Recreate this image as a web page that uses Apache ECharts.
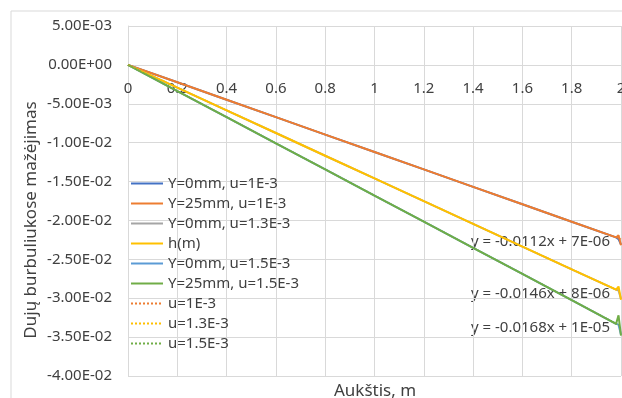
<!DOCTYPE html>
<html>
<head>
<meta charset="utf-8">
<script src="https://cdn.jsdelivr.net/npm/echarts@6/dist/echarts.min.js"></script>
<style>
html, body { margin: 0; padding: 0; background: #fff; }
#chart { width: 622px; height: 398px; }
</style>
</head>
<body>
<div id="chart"></div>
<script>
var chartDom = document.getElementById('chart');
var myChart = echarts.init(chartDom);

// aukštis (x)
var xs = [0, 0.2, 0.4, 0.6, 0.8, 1, 1.2, 1.4, 1.6, 1.8, 1.98, 1.99, 2];
// matavimai
var y0u1 = [0, -0.00224, -0.00448, -0.00672, -0.00896, -0.0112, -0.01344, -0.01568, -0.01792, -0.02016, -0.02218, -0.0224, -0.0231];
var y25u1 = [0, -0.00224, -0.00448, -0.00672, -0.00896, -0.0112, -0.01344, -0.01568, -0.01792, -0.02016, -0.02218, -0.0219, -0.0232];
var y0u13 = [0, -0.00292, -0.00584, -0.00876, -0.01168, -0.0146, -0.01752, -0.02044, -0.02336, -0.02628, -0.0289, -0.0290, -0.0301];
var hm = [0, -0.00292, -0.00584, -0.00876, -0.01168, -0.0146, -0.01752, -0.02044, -0.02336, -0.02628, -0.0289, -0.0285, -0.0302];
var y0u15 = [0, -0.00336, -0.00672, -0.01008, -0.01344, -0.0168, -0.02016, -0.02352, -0.02688, -0.03024, -0.0333, -0.0334, -0.0347];
var y25u15 = [0, -0.00336, -0.00672, -0.01008, -0.01344, -0.0168, -0.02016, -0.02352, -0.02688, -0.03024, -0.0333, -0.0322, -0.0348];
// tendencijos linijos (galai)
var trendX = [0, 2];
var trendU1 = [0.000007, -0.022393];
var trendU13 = [0.000008, -0.029192];
var trendU15 = [0.00001, -0.03359];
var trendText = ['y = -0.0112x + 7E-06', 'y = -0.0146x + 8E-06', 'y = -0.0168x + 1E-05'];

function pairs(x, y) {
    return x.map(function (v, i) { return [v, y[i]]; });
}
function fmtE(v) {
    var s = Number(v).toExponential(2).toUpperCase();
    return s.replace(/E([+-])(\d)$/, 'E$10$2');
}

var txtColor = '#404040';
var font = 'Noto Sans';

function line(name, color, data, dotted) {
    return {
        name: name,
        type: 'line',
        data: data,
        symbol: 'none',
        silent: true,
        lineStyle: { color: color, width: dotted ? 1.5 : 2, type: dotted ? 'dotted' : 'solid' },
        itemStyle: { color: color }
    };
}

var option = {
    animation: false,
    backgroundColor: '#fff',
    textStyle: { fontFamily: font },
    grid: { left: 128, right: 1, top: 26, bottom: 22, outerBoundsMode: 'none', containLabel: false },
    graphic: [
        {
            type: 'rect', z: -10,
            shape: { x: 11, y: 11, width: 700, height: 500 },
            style: { fill: 'none', stroke: '#d9d9d9', lineWidth: 1 }
        },
        { type: 'text', right: 12, top: 234, style: { text: trendText[0], fill: txtColor, font: '15px "Noto Sans"' } },
        { type: 'text', right: 12, top: 286, style: { text: trendText[1], fill: txtColor, font: '15px "Noto Sans"' } },
        { type: 'text', right: 12, top: 320, style: { text: trendText[2], fill: txtColor, font: '15px "Noto Sans"' } },
        {
            type: 'text', x: 31, y: 220, rotation: Math.PI / 2,
            style: { text: 'Dujų burbuliukose mažėjimas', fill: txtColor, font: '17px "Noto Sans"', align: 'center', verticalAlign: 'middle' }
        },
        {
            type: 'text', x: 375, y: 391,
            style: { text: 'Aukštis, m', fill: txtColor, font: '17px "Noto Sans"', align: 'center', verticalAlign: 'middle' }
        }
    ],
    legend: {
        orient: 'vertical',
        left: 125,
        top: 171,
        itemWidth: 32,
        itemHeight: 14,
        itemGap: 5,
        itemStyle: { opacity: 0 },
        textStyle: { color: txtColor, fontSize: 15, fontFamily: font }
    },
    xAxis: {
        type: 'value',
        min: 0,
        max: 2,
        interval: 0.2,
        offset: -311,
        axisLine: { onZero: false, lineStyle: { color: '#d9d9d9' } },
        axisTick: { show: false },
        axisLabel: { color: txtColor, fontSize: 15, margin: 16 },
        splitLine: { show: true, lineStyle: { color: '#d9d9d9' } }
    },
    yAxis: {
        type: 'value',
        min: -0.04,
        max: 0.005,
        interval: 0.005,
        axisLine: { show: true, onZero: false, lineStyle: { color: '#d9d9d9' } },
        axisTick: { show: false },
        axisLabel: { color: txtColor, fontSize: 15, margin: 16, formatter: fmtE },
        splitLine: { show: true, lineStyle: { color: '#d9d9d9' } }
    },
    series: [
        line('Y=0mm, u=1E-3', '#4472C4', pairs(xs, y0u1)),
        line('Y=25mm, u=1E-3', '#ED7D31', pairs(xs, y25u1)),
        line('Y=0mm, u=1.3E-3', '#A5A5A5', pairs(xs, y0u13)),
        line('h(m)', '#FFC000', pairs(xs, hm)),
        line('Y=0mm, u=1.5E-3', '#5B9BD5', pairs(xs, y0u15)),
        line('Y=25mm, u=1.5E-3', '#70AD47', pairs(xs, y25u15)),
        line('u=1E-3', '#ED7D31', pairs(trendX, trendU1), true),
        line('u=1.3E-3', '#FFC000', pairs(trendX, trendU13), true),
        line('u=1.5E-3', '#70AD47', pairs(trendX, trendU15), true)
    ]
};
myChart.setOption(option);
window.addEventListener('resize', function () {
    myChart.resize();
});
</script>
</body>
</html>
